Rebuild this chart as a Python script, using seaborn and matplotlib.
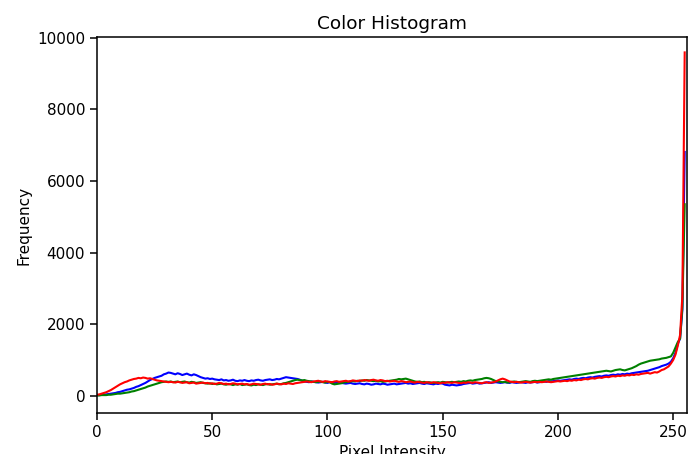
import numpy as np
import pandas as pd
import matplotlib
matplotlib.use("Agg")
import matplotlib.pyplot as plt
import seaborn as sns

# histogram counts per bin (0..255)
blue = [
    20, 20, 30, 30, 40, 50, 60, 70, 80, 100, 110, 130, 150, 170, 180, 200,
    220, 250, 270, 300, 330, 360, 400, 440, 470, 500, 520, 540, 560, 600, 620, 650,
    640, 620, 600, 630, 610, 580, 600, 620, 590, 570, 600, 580, 550, 520, 500, 480,
    490, 470, 480, 460, 450, 440, 460, 430, 440, 420, 430, 450, 420, 410, 430, 420,
    440, 420, 410, 430, 420, 440, 450, 430, 420, 440, 450, 460, 440, 450, 470, 460,
    480, 500, 520, 510, 500, 490, 480, 470, 450, 420, 400, 390, 380, 400, 390, 380,
    370, 380, 390, 370, 360, 380, 370, 360, 380, 370, 360, 350, 340, 350, 360, 340,
    330, 340, 350, 330, 320, 340, 330, 310, 320, 340, 330, 320, 340, 330, 310, 320,
    330, 340, 320, 330, 340, 350, 360, 340, 350, 330, 340, 350, 360, 340, 330, 350,
    340, 330, 320, 340, 330, 350, 340, 310, 300, 290, 310, 300, 290, 300, 310, 330,
    340, 350, 360, 340, 350, 360, 340, 350, 360, 370, 380, 360, 370, 380, 370, 360,
    370, 380, 370, 360, 380, 370, 360, 370, 380, 370, 360, 380, 370, 380, 390, 370,
    380, 390, 400, 390, 410, 400, 410, 420, 430, 420, 430, 440, 450, 460, 450, 470,
    480, 470, 490, 500, 490, 510, 520, 510, 530, 540, 550, 540, 560, 570, 560, 580,
    590, 580, 600, 590, 610, 600, 620, 610, 630, 640, 650, 660, 670, 680, 690, 700,
    720, 740, 760, 780, 800, 830, 850, 870, 900, 950, 1050, 1200, 1450, 1600, 2400, 6810,
]
green = [
    10, 10, 20, 20, 20, 30, 30, 40, 50, 60, 60, 70, 80, 90, 100, 120,
    130, 150, 170, 190, 210, 230, 260, 280, 300, 320, 340, 360, 380, 390, 400, 390,
    400, 380, 390, 400, 380, 390, 400, 380, 370, 390, 380, 360, 370, 380, 360, 350,
    340, 350, 330, 340, 320, 330, 340, 320, 310, 330, 320, 300, 320, 310, 330, 300,
    310, 320, 300, 290, 310, 300, 320, 310, 300, 320, 330, 310, 320, 330, 340, 320,
    330, 350, 360, 380, 400, 420, 440, 450, 440, 430, 440, 420, 410, 400, 390, 380,
    390, 400, 380, 370, 390, 380, 340, 320, 330, 340, 350, 370, 380, 390, 400, 410,
    400, 420, 410, 430, 420, 440, 430, 420, 410, 420, 400, 410, 390, 400, 410, 420,
    430, 440, 450, 470, 460, 470, 480, 460, 440, 420, 400, 390, 400, 380, 390, 370,
    380, 370, 360, 370, 380, 370, 390, 380, 370, 380, 390, 380, 390, 400, 390, 410,
    400, 420, 430, 420, 440, 450, 460, 470, 490, 500, 490, 470, 440, 410, 400, 390,
    380, 390, 370, 380, 390, 400, 390, 380, 390, 400, 410, 400, 390, 410, 420, 410,
    420, 430, 440, 450, 460, 450, 470, 480, 490, 500, 510, 520, 530, 540, 550, 560,
    570, 580, 590, 600, 610, 620, 630, 640, 650, 660, 670, 680, 690, 700, 690, 680,
    700, 720, 730, 740, 720, 710, 730, 750, 770, 800, 830, 870, 900, 920, 940, 960,
    980, 990, 1000, 1010, 1020, 1040, 1050, 1060, 1080, 1100, 1200, 1350, 1500, 1600, 2500, 5350,
]
red = [
    30, 40, 60, 80, 100, 130, 160, 200, 240, 280, 320, 350, 380, 400, 430, 450,
    470, 480, 500, 490, 510, 500, 480, 490, 470, 450, 430, 420, 410, 400, 390, 380,
    390, 380, 370, 390, 380, 360, 370, 380, 350, 360, 370, 340, 350, 360, 370, 350,
    360, 340, 350, 330, 340, 360, 350, 330, 340, 320, 330, 350, 340, 320, 330, 340,
    320, 330, 310, 320, 340, 330, 320, 310, 330, 340, 320, 330, 310, 320, 340, 330,
    320, 340, 330, 350, 340, 330, 350, 360, 370, 380, 390, 400, 390, 380, 400, 410,
    420, 400, 390, 410, 400, 390, 380, 400, 410, 390, 400, 410, 420, 400, 410, 430,
    420, 410, 430, 420, 440, 430, 420, 440, 450, 430, 420, 440, 430, 410, 420, 400,
    410, 420, 400, 390, 410, 400, 380, 390, 400, 380, 370, 390, 380, 370, 360, 380,
    370, 360, 380, 370, 360, 350, 370, 360, 380, 370, 360, 380, 370, 360, 350, 370,
    360, 380, 370, 360, 380, 370, 360, 350, 370, 380, 360, 370, 380, 400, 430, 460,
    480, 460, 430, 400, 390, 380, 390, 380, 370, 380, 390, 380, 370, 380, 390, 380,
    390, 380, 390, 400, 390, 380, 390, 400, 410, 400, 410, 420, 410, 430, 420, 440,
    430, 450, 440, 460, 470, 460, 480, 490, 480, 500, 510, 500, 520, 530, 520, 540,
    550, 540, 560, 550, 570, 560, 580, 570, 590, 580, 600, 590, 610, 620, 630, 640,
    620, 640, 660, 650, 680, 720, 740, 780, 820, 900, 1000, 1150, 1400, 1700, 2800, 9590,
]
channels = ["b", "g", "r"]

bins = np.arange(256)
df = pd.DataFrame({
    "Pixel Intensity": np.tile(bins, 3),
    "Frequency": blue + green + red,
    "channel": np.repeat(channels, 256),
})

fig = plt.figure(figsize=(6.88, 4.54), dpi=100)
ax = fig.add_axes([97 / 688, 41 / 454, 590 / 688, 376 / 454])

sns.lineplot(data=df, x="Pixel Intensity", y="Frequency", hue="channel",
             hue_order=channels, palette={"b": "b", "g": "g", "r": "r"},
             estimator=None, linewidth=1.5, legend=False, ax=ax)

ax.set_xlim(0, 256)
ax.set_ylim(-480, 10020)
ax.set_title("Color Histogram", fontsize=13.3)
ax.set_xlabel("Pixel Intensity", fontsize=11)
ax.set_ylabel("Frequency", fontsize=11)
ax.tick_params(labelsize=11, length=5, width=1.1)
for s in ax.spines.values():
    s.set_linewidth(1.1)

fig.savefig("out.png", dpi=100)
